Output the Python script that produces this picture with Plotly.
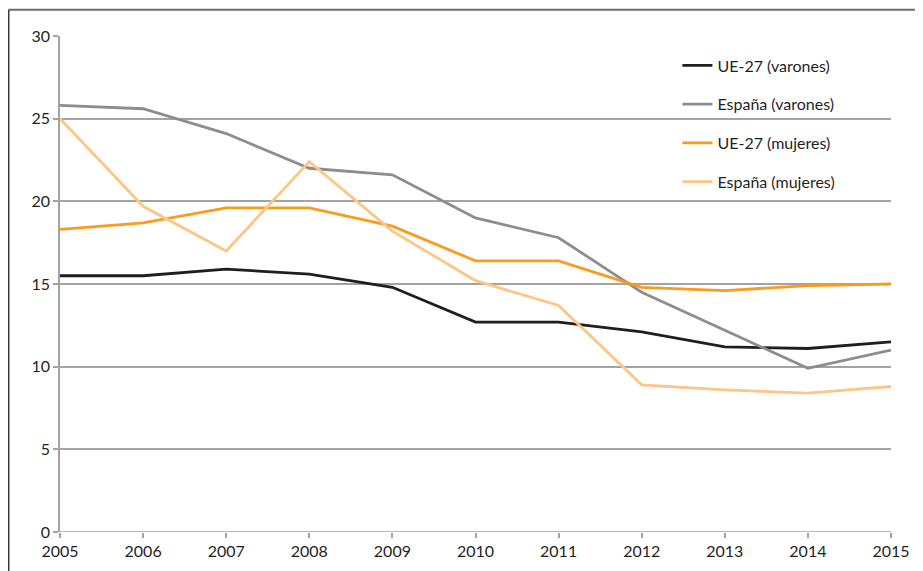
import plotly.graph_objects as go

years = [2005, 2006, 2007, 2008, 2009, 2010, 2011, 2012, 2013, 2014, 2015]

ue_varones = [15.5, 15.5, 15.9, 15.6, 14.8, 12.7, 12.7, 12.1, 11.2, 11.1, 11.5]
es_varones = [25.8, 25.6, 24.1, 22.0, 21.6, 19.0, 17.8, 14.5, 12.2, 9.9, 11.0]
ue_mujeres = [18.3, 18.7, 19.6, 19.6, 18.5, 16.4, 16.4, 14.8, 14.6, 14.9, 15.0]
es_mujeres = [25.0, 19.7, 17.0, 22.4, 18.2, 15.2, 13.7, 8.9, 8.6, 8.4, 8.8]

names = ['UE-27 (varones)', 'España (varones)', 'UE-27 (mujeres)', 'España (mujeres)']
colors = ['#1e1e1e', '#8d8d8d', '#fb9a1c', '#fec584']
series = [ue_varones, es_varones, ue_mujeres, es_mujeres]

y_ticks = [0, 5, 10, 15, 20, 25, 30]

fig = go.Figure()

for i, (name, vals) in enumerate(zip(names, series)):
    fig.add_trace(go.Scatter(
        x=years,
        y=vals,
        mode='lines',
        name=name,
        legendgroup=str(i),
        line=dict(color=colors[i], width=2.8),
        hoverinfo='none'
    ))

grid_col = '#a3a3a3'

# the page body adds an 8px offset, so the figure is sized to fit the window
fig.update_layout(
    width=915,
    height=563,
    margin=dict(l=52, r=32, t=28, b=39),
    paper_bgcolor='white',
    plot_bgcolor='white',
    font=dict(family='Lato, Carlito, "Open Sans", sans-serif', size=16, color='#1f1f1f'),
    showlegend=True,
    legend=dict(
        x=0.743, y=0.975,
        xanchor='left', yanchor='top',
        bgcolor='rgba(0,0,0,0)',
        tracegroupgap=15,
        itemwidth=30,
        font=dict(size=16, color='#1f1f1f')
    ),
    xaxis=dict(
        range=[2005, 2015],
        tickmode='array',
        tickvals=years,
        showgrid=False,
        zeroline=False,
        showline=False,
        ticks='outside',
        ticklen=5,
        tickcolor=grid_col,
        tickwidth=1.5,
        fixedrange=True
    ),
    yaxis=dict(
        range=[0, 30],
        tickmode='array',
        tickvals=y_ticks,
        showgrid=True,
        gridcolor=grid_col,
        gridwidth=1.5,
        zeroline=False,
        showline=True,
        linecolor=grid_col,
        linewidth=1.5,
        ticks='outside',
        ticklen=5,
        tickcolor=grid_col,
        tickwidth=1.5,
        fixedrange=True
    )
)

# axis line along y = 0
fig.add_shape(type='line', xref='paper', yref='y', x0=0, x1=1, y0=0, y1=0,
              line=dict(color=grid_col, width=1.5), layer='below')

# outer frame (top and left edges only)
fig.add_shape(type='line', xref='paper', yref='paper', x0=-0.062, x1=1.05, y0=1.053, y1=1.053,
              line=dict(color='#6e6e6e', width=2))
fig.add_shape(type='line', xref='paper', yref='paper', x0=-0.062, x1=-0.062, y0=1.053, y1=-0.1,
              line=dict(color='#3a3a3a', width=2))

fig.write_html("out.html")
